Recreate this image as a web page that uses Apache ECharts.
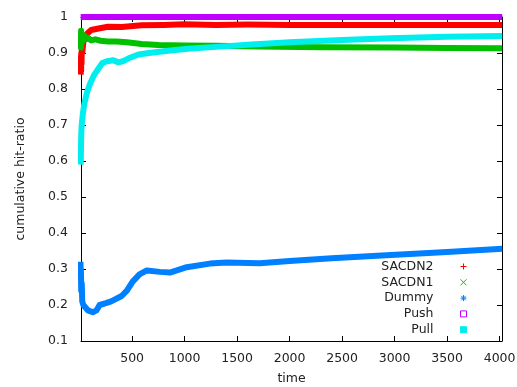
<!DOCTYPE html>
<html>
<head>
<meta charset="utf-8">
<script src="https://cdn.jsdelivr.net/npm/echarts@6/dist/echarts.min.js"></script>
<style>
  html, body { margin: 0; padding: 0; background: #fff; }
  #chart { width: 517px; height: 387px; }
</style>
</head>
<body>
<div id="chart"></div>
<script>
// series as [time, ratio]
var sacdn2 = [[10,0.84],[12,0.89],[14,0.85],[16,0.9],[18,0.87],[20,0.91],[25,0.9],[35,0.93],[50,0.945],[75,0.955],[110,0.964],[180,0.968],[270,0.973],[400,0.972],[590,0.977],[800,0.978],[1000,0.98],[1300,0.978],[1600,0.979],[2000,0.978],[2500,0.978],[3000,0.978],[3500,0.978],[4025,0.978]]
var sacdn1 = [[10,0.95],[12,0.915],[14,0.962],[16,0.925],[18,0.955],[22,0.93],[28,0.95],[35,0.935],[45,0.948],[60,0.938],[80,0.942],[110,0.935],[150,0.938],[200,0.934],[270,0.932],[350,0.932],[450,0.93],[590,0.925],[750,0.922],[1000,0.921],[1300,0.92],[1700,0.918],[2300,0.916],[3000,0.915],[3500,0.914],[4025,0.913]]
var dummy = [[8,0.32],[10,0.28],[12,0.3],[15,0.24],[20,0.26],[25,0.21],[35,0.2],[50,0.195],[80,0.185],[125,0.18],[160,0.185],[190,0.2],[250,0.205],[300,0.21],[400,0.225],[450,0.24],[505,0.265],[570,0.285],[640,0.296],[765,0.292],[860,0.29],[1020,0.305],[1240,0.315],[1400,0.318],[1715,0.316],[2000,0.322],[2400,0.33],[2834,0.337],[3500,0.347],[4025,0.356]]
var push = [[10,1],[4025,1]]
var pull = [[10,0.59],[13,0.64],[16,0.68],[20,0.7],[30,0.73],[45,0.76],[70,0.79],[100,0.815],[140,0.84],[180,0.857],[215,0.872],[260,0.877],[320,0.88],[370,0.874],[420,0.878],[480,0.887],[560,0.896],[660,0.9],[800,0.905],[1030,0.912],[1300,0.917],[1600,0.923],[2000,0.93],[2500,0.936],[2960,0.941],[3500,0.945],[4025,0.947]]

var seriesNames = ['SACDN2', 'SACDN1', 'Dummy', 'Push', 'Pull']
var xTicks = [500, 1000, 1500, 2000, 2500, 3000, 3500, 4000]

var colors = ['#ff0000', '#00c000', '#0080ff', '#c000ff', '#00eeee']
// gnuplot point types 1..5
var icons = [
  'path://M4,0L4,8M0,4L8,4',
  'path://M0,0L8,8M0,8L8,0',
  'path://M4,0L4,8M0,4L8,4M1,1L7,7M1,7L7,1',
  'path://M0,0L8,0L8,8L0,8Z',
  'path://M0,0L8,0L8,8L0,8Z'
]

var font = 'DejaVu Sans'
var chart = echarts.init(document.getElementById('chart'))

function mkSeries(i, data) {
  return {
    name: seriesNames[i],
    type: 'line',
    data: data,
    symbol: 'none',
    clip: false,
    animation: false,
    color: colors[i],
    lineStyle: { color: colors[i], width: 6, join: 'round' }
  }
}

chart.setOption({
  animation: false,
  textStyle: { fontFamily: font },
  grid: { left: 81, right: 15, top: 17, bottom: 46, outerBoundsMode: 'none', containLabel: false },
  legend: {
    orient: 'vertical',
    right: 50,
    top: 260,
    padding: 0,
    itemGap: 2.8,
    itemWidth: 6,
    itemHeight: 6,
    align: 'right',
    selectedMode: false,
    textStyle: { fontFamily: font, fontSize: 12.5, color: '#222', padding: [0, 22, 0, 0] },
    data: seriesNames.map(function (n, i) {
      return {
        name: n,
        icon: icons[i],
        itemStyle: {
          color: i === 4 ? colors[i] : 'rgba(0,0,0,0)',
          borderColor: colors[i],
          borderWidth: 1
        }
      }
    })
  },
  xAxis: [{
    type: 'value',
    min: 13,
    max: 4023,
    name: 'time',
    nameLocation: 'middle',
    nameGap: 31,
    nameTextStyle: { fontFamily: font, fontSize: 12.5, color: '#222' },
    splitLine: { show: false },
    axisLine: { lineStyle: { color: '#000' } },
    axisTick: { inside: true, length: 5, customValues: xTicks, lineStyle: { color: '#000' } },
    axisLabel: {
      customValues: xTicks, fontFamily: font, fontSize: 12.5, color: '#222', margin: 11,
      formatter: function (v) { return String(v) }
    }
  }, {
    type: 'value',
    position: 'top',
    min: 13,
    max: 4023,
    splitLine: { show: false },
    axisLine: { lineStyle: { color: '#000' } },
    axisTick: { inside: true, length: 5, customValues: xTicks, lineStyle: { color: '#000' } },
    axisLabel: { show: false }
  }],
  yAxis: [{
    type: 'value',
    min: 0.1,
    max: 1,
    interval: 0.1,
    name: 'cumulative hit-ratio',
    nameLocation: 'middle',
    nameGap: 54,
    nameTextStyle: { fontFamily: font, fontSize: 12.5, color: '#222' },
    splitLine: { show: false },
    axisLine: { show: true, lineStyle: { color: '#000' } },
    axisTick: { inside: true, length: 5, lineStyle: { color: '#000' } },
    axisLabel: {
      fontFamily: font, fontSize: 12.5, color: '#222', margin: 13,
      formatter: function (v) { return String(+v.toFixed(1)) }
    }
  }, {
    type: 'value',
    position: 'right',
    min: 0.1,
    max: 1,
    interval: 0.1,
    splitLine: { show: false },
    axisLine: { show: true, lineStyle: { color: '#000' } },
    axisTick: { inside: true, length: 5, lineStyle: { color: '#000' } },
    axisLabel: { show: false }
  }],
  series: [
    mkSeries(0, sacdn2),
    mkSeries(1, sacdn1),
    mkSeries(2, dummy),
    mkSeries(3, push),
    mkSeries(4, pull)
  ]
})
</script>
</body>
</html>
